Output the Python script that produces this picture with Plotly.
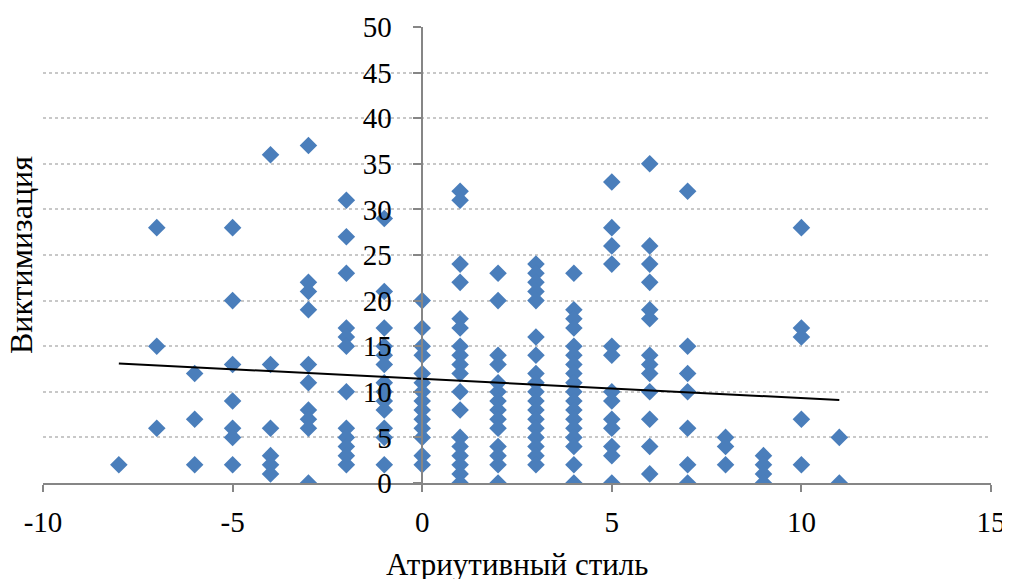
import plotly.graph_objects as go

# Data: x value -> list of y values
col_m8 = [2]
col_m7 = [28, 15, 6]
col_m6 = [12, 7, 2]
col_m5 = [28, 20, 13, 9, 6, 5, 2]
col_m4 = [36, 13, 6, 3, 2, 1]
col_m3 = [37, 22, 21, 19, 13, 11, 8, 7, 6, 0]
col_m2 = [31, 27, 23, 17, 16, 15, 10, 6, 5, 4, 3, 2]
col_m1 = [29, 21, 17, 15, 14, 13, 11, 10, 9, 8, 6, 5, 2]
col_0 = [20, 17, 15, 14, 12, 11, 10, 9, 8, 7, 6, 5, 3, 2]
col_1 = [32, 31, 24, 22, 18, 17, 15, 14, 13, 12, 10, 8, 5, 4, 3, 2, 1, 0]
col_2 = [23, 20, 14, 13, 11, 10, 9, 8, 7, 6, 4, 3, 2, 0]
col_3 = [24, 23, 22, 21, 20, 16, 14, 12, 11, 10, 9, 8, 7, 6, 5, 4, 3, 2]
col_4 = [23, 19, 18, 17, 15, 14, 13, 12, 11, 10, 9, 8, 7, 6, 5, 4, 2, 0]
col_5 = [33, 28, 26, 24, 15, 14, 10, 9, 7, 6, 4, 3, 0]
col_6 = [35, 26, 24, 22, 19, 18, 14, 13, 12, 10, 7, 4, 1]
col_7 = [32, 15, 12, 10, 6, 2, 0]
col_8 = [5, 4, 2]
col_9 = [3, 2, 1, 0]
col_10 = [28, 17, 16, 7, 2]
col_11 = [5, 0]

x_values = [-8, -7, -6, -5, -4, -3, -2, -1, 0, 1, 2, 3, 4, 5, 6, 7, 8, 9, 10, 11]
columns = [col_m8, col_m7, col_m6, col_m5, col_m4, col_m3, col_m2, col_m1, col_0,
           col_1, col_2, col_3, col_4, col_5, col_6, col_7, col_8, col_9, col_10, col_11]

# Linear trend line endpoints
trend_x = [-8, 11]
trend_y = [13.1, 9.1]

x_ticks = [-10, -5, 0, 5, 10, 15]
y_ticks = [0, 5, 10, 15, 20, 25, 30, 35, 40, 45, 50]

xs, ys = [], []
for xv, col in zip(x_values, columns):
    for yv in col:
        xs.append(xv)
        ys.append(yv)

FONT = "Liberation Serif"

fig = go.Figure()
fig.add_trace(go.Scatter(
    x=xs, y=ys, mode="markers",
    marker=dict(symbol="diamond", size=13.5, color="#4A7EBB", line=dict(width=0)),
    showlegend=False, hoverinfo="x+y"))
fig.add_trace(go.Scatter(
    x=trend_x, y=trend_y, mode="lines",
    line=dict(color="black", width=2), showlegend=False))

# page body has an 8px margin, so margins are adjusted by 8px
fig.update_layout(
    width=1010, height=571,
    margin=dict(l=35, r=27, t=19, b=96, autoexpand=False),
    paper_bgcolor="white", plot_bgcolor="white",
    font=dict(family=FONT, size=29, color="black"),
    xaxis=dict(range=[-10, 15], tickvals=x_ticks, ticktext=[str(v) for v in x_ticks],
               showgrid=False, zeroline=False, showline=True, linecolor="#868686",
               linewidth=1.5, ticks="outside", ticklen=7, tickcolor="#868686",
               tickwidth=1.5, ticklabelstandoff=5, anchor="y", automargin=False),
    yaxis=dict(range=[0, 50], tickvals=y_ticks, ticktext=[str(v) for v in y_ticks],
               showgrid=True, gridcolor="#c8c8c8", griddash="dot", gridwidth=1.5,
               zeroline=False, showline=True, linecolor="#868686", linewidth=1.5,
               ticks="outside", ticklen=8, tickcolor="#868686", tickwidth=1.5,
               ticklabelstandoff=16, anchor="free", position=0.4, automargin=False),
    annotations=[
        dict(text="Атриутивный стиль", xref="paper", yref="paper", x=0.5, y=0,
             yshift=-62, showarrow=False, xanchor="center", yanchor="top",
             font=dict(family=FONT, size=31, color="black")),
        dict(text="Виктимизация", xref="paper", yref="paper", x=0, y=0.5,
             xshift=-22, textangle=-90, showarrow=False, xanchor="center",
             yanchor="middle", font=dict(family=FONT, size=32, color="black")),
    ],
)

fig.write_html("out.html")
